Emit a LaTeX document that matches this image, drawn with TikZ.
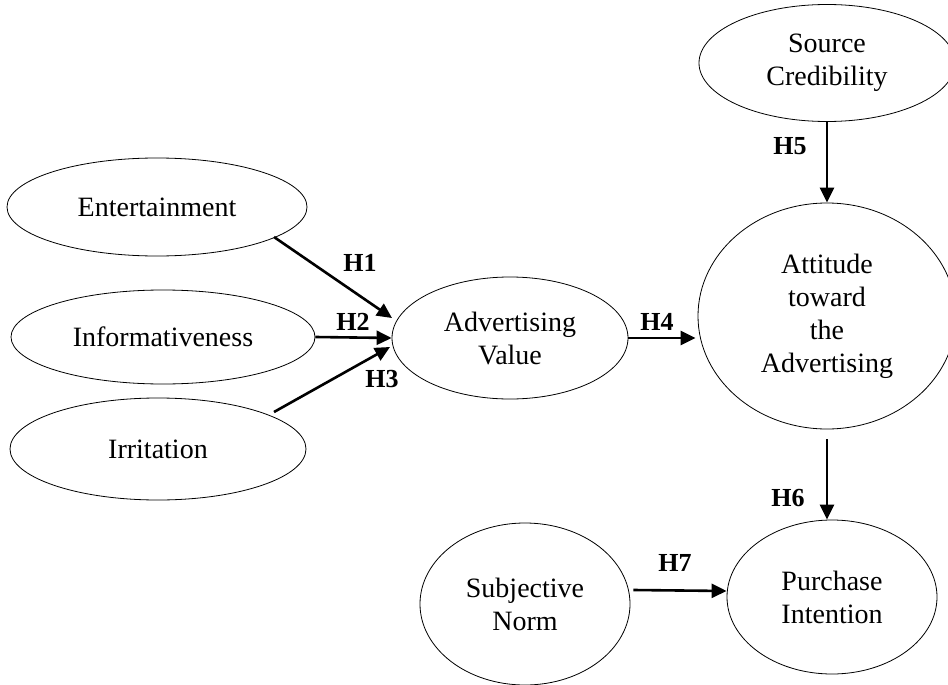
\documentclass[tikz,border=0pt]{standalone}
\usepackage{fontspec}
\setmainfont{Liberation Serif}
\usetikzlibrary{shapes.geometric,arrows.meta,calc}
\begin{document}
\begin{tikzpicture}[x=1pt,y=-1pt,
  construct/.style={ellipse,draw,line width=0.8pt,inner sep=0pt,align=center,
    font=\fontsize{28}{33}\selectfont},
  link/.style={line width=2.6pt,-{Triangle[length=15pt,width=14pt]}},
  hyp/.style={font=\fontsize{26}{30}\selectfont\bfseries,inner sep=0pt}]
\useasboundingbox (0,0) rectangle (948,685);
\clip (0,0) rectangle (948,685);
\fill[white] (0,0) rectangle (948,685);

\node[construct,minimum width=300pt,minimum height=98pt] (ent) at (157,207) {Entertainment};
\node[construct,minimum width=304pt,minimum height=94pt] (inf) at (163,337) {Informativeness};
\node[construct,minimum width=296pt,minimum height=102pt] (irr) at (158,449) {Irritation};
\node[construct,minimum width=236pt,minimum height=122pt] (adv) at (510,338) {Advertising\\Value};
\node[construct,minimum width=256pt,minimum height=117pt] (src) at (827,63) {Source\\Credibility};
\node[construct,minimum width=258pt,minimum height=226pt] (att) at (827,316) {Attitude\\toward\\the\\Advertising};
\node[construct,minimum width=210pt,minimum height=154pt] (pur) at (832,597) {Purchase\\Intention};
\node[construct,minimum width=210pt,minimum height=162pt] (sub) at (525,604) {Subjective\\Norm};

\draw[link] ($(ent.center)+(117,30)$) -- ($(adv.center)+(-118,-20)$);
\draw[link] (inf.east) -- (adv.west);
\draw[link] ($(irr.center)+(116,-37)$) -- ($(adv.center)+(-120,9)$);
\draw[link,shorten >=2pt] (adv.east) -- (adv.east -| att.west);
\draw[link] (src.south) -- (att.north);
\draw[link,shorten <=10pt] (att.south) -- (att.south |- pur.north);
\draw[link] ($(sub.east)+(3,-14)$) -- ($(pur.west)+(0,-6)$);

\node[hyp] (h1) at (360,263) {H1};
\node[hyp] (h2) at (353,322) {H2};
\node[hyp] (h3) at (382,379) {H3};
\node[hyp] (h4) at (657,322) {H4};
\node[hyp] (h5) at (790,146) {H5};
\node[hyp] (h6) at (788,498) {H6};
\node[hyp] (h7) at (675,563) {H7};
\end{tikzpicture}
\end{document}
